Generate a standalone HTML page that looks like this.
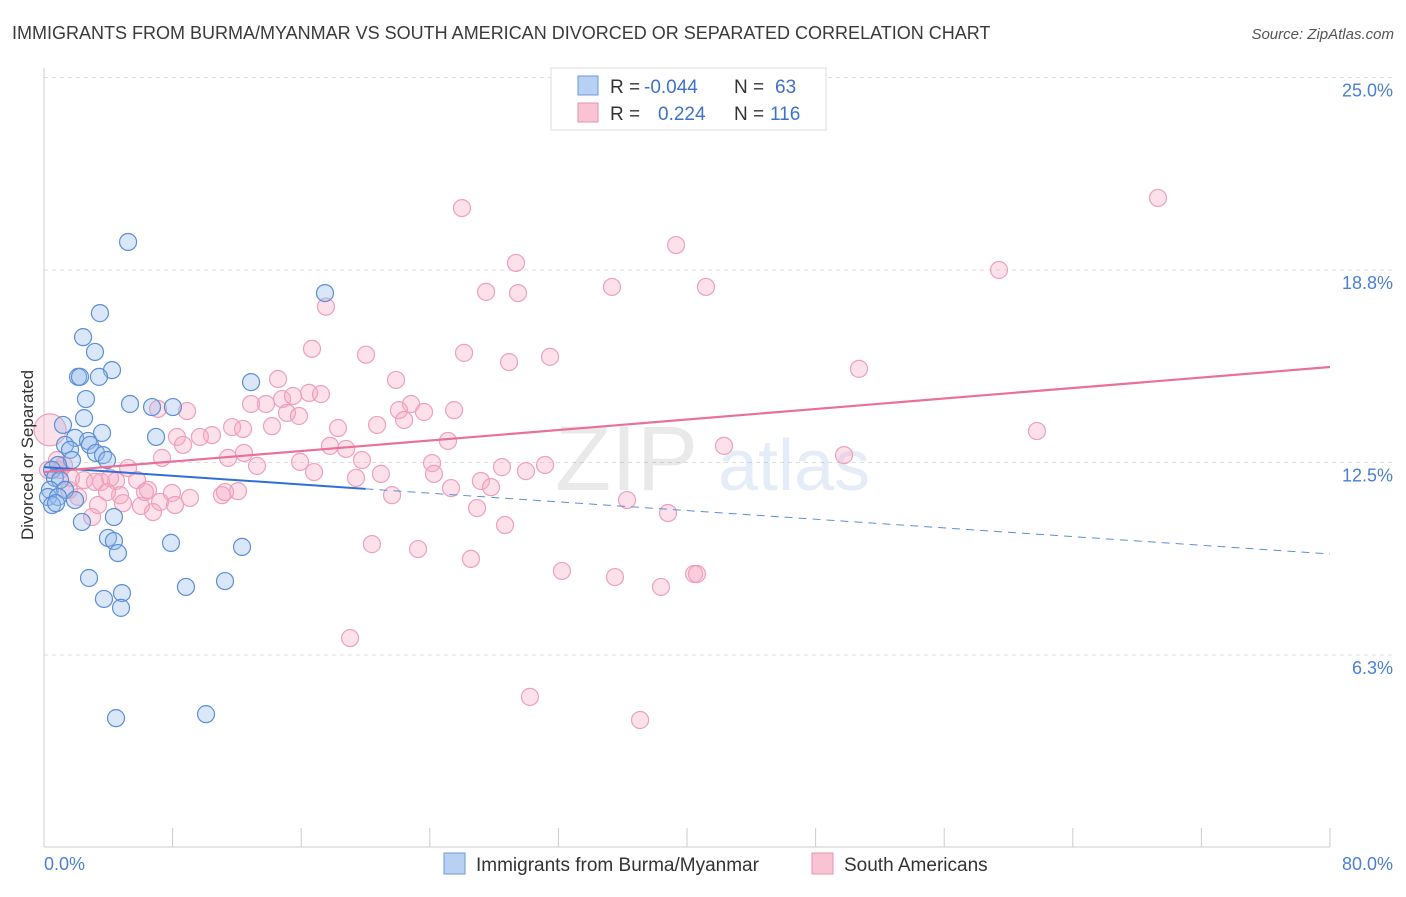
<!DOCTYPE html>
<html><head><meta charset="utf-8">
<style>
body{margin:0;background:#fff;font-family:"Liberation Sans",sans-serif;}
svg text{font-family:"Liberation Sans",sans-serif;}
</style></head>
<body>
<svg id="chart" width="1406" height="892" viewBox="0 0 1406 892" xmlns="http://www.w3.org/2000/svg">
<text x="12" y="39" font-size="18" fill="#3a3a3a">IMMIGRANTS FROM BURMA/MYANMAR VS SOUTH AMERICAN DIVORCED OR SEPARATED CORRELATION CHART</text>
<text x="1394" y="39" font-size="15" fill="#555" text-anchor="end" font-style="italic">Source: ZipAtlas.com</text>
<g id="grid"></g>
<g opacity="0.18">
<text x="555" y="490" font-size="92" font-family="Liberation Serif" fill="#888">ZIP</text>
<text x="718" y="490" font-size="72" fill="#6c9ad8">atlas</text>
</g>
<line x1="44" y1="68" x2="44" y2="847" stroke="#ccc"/>
<line x1="44" y1="847" x2="1330" y2="847" stroke="#ccc"/>
<g id="xticks"></g>
<g id="ylabels"></g>
<g id="pinkPts"></g>
<g id="bluePts"></g>
<g id="trends"></g>
<text transform="translate(33,455) rotate(-90)" font-size="17" fill="#333" text-anchor="middle">Divorced or Separated</text>
<text x="44" y="870" font-size="18" fill="#4a7fd4">0.0%</text>
<text x="1393" y="870" font-size="18" fill="#4a7fd4" text-anchor="end">80.0%</text>
<g>
<rect x="551" y="68" width="275" height="62" fill="#fff" stroke="#ddd"/>
<rect x="578" y="76" width="20" height="19" fill="#b8d0f2" stroke="#6c9ad8"/>
<rect x="578" y="103" width="20" height="19" fill="#f8c4d4" stroke="#e892ae"/>
<text x="610" y="93" font-size="19" fill="#333">R =</text>
<text x="644" y="93" font-size="19" fill="#3d72cc">-0.044</text>
<text x="734" y="93" font-size="19" fill="#333">N =</text>
<text x="775" y="93" font-size="19" fill="#3d72cc">63</text>
<text x="610" y="120" font-size="19" fill="#333">R =</text>
<text x="658" y="120" font-size="19" fill="#3d72cc">0.224</text>
<text x="734" y="120" font-size="19" fill="#333">N =</text>
<text x="770" y="120" font-size="19" fill="#3d72cc">116</text>
</g>
<g>
<rect x="444" y="853" width="21" height="21" fill="#b8d0f2" stroke="#6c9ad8"/>
<text x="476" y="871" font-size="19" fill="#333">Immigrants from Burma/Myanmar</text>
<rect x="812" y="853" width="21" height="21" fill="#f8c4d4" stroke="#e892ae"/>
<text x="844" y="871" font-size="19" fill="#333">South Americans</text>
</g>
</svg>
<script>
const yTicks=[6.25,12.5,18.75,25];
const yTickLabels=["6.3%","12.5%","18.8%","25.0%"];
const xTicks=[0,8,16,24,32,40,48,56,64,72,80];
const blueX=[5.23,3.48,2.43,3.17,2.12,2.24,4.23,3.42,2.61,5.35,6.72,8.02,12.88,17.48,2.49,1.18,3.61,1.93,2.74,2.86,6.97,1.31,1.62,3.23,3.67,3.92,1.74,0.87,0.50,0.68,1.00,0.37,1.31,0.25,0.87,1.93,2.36,4.35,3.98,4.35,4.60,7.90,12.32,2.80,8.83,11.26,3.73,4.85,4.79,4.48,10.08,0.50,0.75];
const blueY=[19.66,17.35,16.57,16.09,15.28,15.28,15.50,15.28,14.56,14.40,14.30,14.30,15.11,18.00,13.94,13.72,13.46,13.30,13.20,13.07,13.33,13.07,12.91,12.81,12.74,12.58,12.58,12.42,12.26,12.00,11.93,11.61,11.61,11.38,11.38,11.28,10.57,10.73,10.05,9.95,9.56,9.89,9.76,8.75,8.46,8.65,8.07,8.26,7.78,4.20,4.33,11.12,11.18];
const pinkX=[69.30,26.00,39.32,29.36,59.41,27.50,29.49,35.33,41.18,17.54,16.67,20.03,26.13,31.48,28.93,50.70,14.56,21.90,12.88,13.81,14.81,16.49,17.23,15.49,22.83,23.64,22.08,25.51,22.40,20.72,18.29,14.18,15.12,15.86,8.90,7.09,11.70,12.38,10.45,9.70,8.27,8.65,17.79,18.79,25.13,42.30,61.77,49.77,7.34,12.44,11.45,13.25,15.93,19.78,16.80,24.14,24.26,20.96,19.41,28.49,31.17,29.98,27.18,27.81,25.32,21.65,36.27,38.82,26.94,28.68,5.23,5.79,4.48,3.55,2.49,1.68,1.00,0.81,0.37,7.96,9.08,12.07,11.07,6.47,4.73,3.92,6.03,7.22,4.91,3.36,2.12,1.56,2.99,3.17,0.25,1.24,20.40,23.27,26.56,32.22,35.52,38.38,40.44,40.62,19.04,30.23,37.08,6.78,8.15,6.28,4.11,11.26];
const pinkY=[21.09,20.76,19.56,18.98,18.75,18.04,18.00,18.20,18.20,17.56,16.19,16.00,16.06,15.93,15.76,15.54,15.21,15.18,14.40,14.40,14.56,14.76,14.72,14.66,14.40,14.14,14.20,14.20,13.88,13.72,13.62,13.68,14.11,14.01,14.17,14.24,13.65,13.59,13.39,13.33,13.33,13.07,13.04,12.94,13.20,13.04,13.52,12.74,12.65,12.81,12.65,12.39,12.52,12.58,12.19,12.48,12.13,12.13,12.00,12.35,12.42,12.22,11.90,11.70,11.67,11.44,11.28,10.86,11.02,10.47,12.32,11.93,11.90,11.87,11.93,12.00,12.26,12.58,13.56,11.51,11.35,11.57,11.44,11.61,11.44,11.54,11.09,11.22,11.18,11.12,11.38,11.61,10.73,11.87,12.26,12.42,9.85,9.69,9.37,8.98,8.78,8.46,8.88,8.88,6.80,4.89,4.14,10.89,11.12,11.54,12.00,11.54];
const blueTrend=[12.35,9.53]; // at x=0 and x=80
const blueSolidEnd=20;
const pinkTrend=[12.19,15.60];

const NS="http://www.w3.org/2000/svg";
const xs=v=>44+v*16.075;
const ys=v=>847.5-v*30.8;
function mk(tag,attrs,parent){const e=document.createElementNS(NS,tag);for(const k in attrs)e.setAttribute(k,attrs[k]);parent.appendChild(e);return e;}
const grid=document.getElementById('grid'),yl=document.getElementById('ylabels'),xt=document.getElementById('xticks');
yTicks.forEach((t,i)=>{
 const l=mk('line',{x1:44,x2:1394,y1:ys(t),y2:ys(t),stroke:'#ddd','stroke-dasharray':'4,4'},grid);
 
 
 const tx=mk('text',{x:1393,y:ys(t)+19,'font-size':18,fill:'#4a7fd4','text-anchor':'end'},yl);
 tx.textContent=yTickLabels[i];
 
 
});
xTicks.forEach(t=>{
 const l=mk('line',{x1:xs(t),x2:xs(t),y1:828,y2:847,stroke:'#ccc'},xt);
 
 
});
const pg=document.getElementById('pinkPts');
pinkX.forEach((x,i)=>{
 const r=(i===78)?16:8.5;
 const c=mk('circle',{cx:xs(x),cy:ys(pinkY[i]),r:r,fill:'rgba(245,170,195,0.35)',stroke:'#eea0ba','stroke-width':1.2},pg);
 
 
});
const bg=document.getElementById('bluePts');
blueX.forEach((x,i)=>{
 const c=mk('circle',{cx:xs(x),cy:ys(blueY[i]),r:8.5,fill:'rgba(150,185,235,0.35)',stroke:'#5b8fd6','stroke-width':1.2},bg);
 
 
});
const tg=document.getElementById('trends');
const bAt=x=>blueTrend[0]+(blueTrend[1]-blueTrend[0])*x/80;
let l1=mk('line',{x1:xs(0),y1:ys(bAt(0)),x2:xs(blueSolidEnd),y2:ys(bAt(blueSolidEnd)),stroke:'#2f6fd6','stroke-width':2},tg);


let l2=mk('line',{x1:xs(blueSolidEnd),y1:ys(bAt(blueSolidEnd)),x2:xs(80),y2:ys(bAt(80)),stroke:'#5b8fd6','stroke-width':1,'stroke-dasharray':'8,6'},tg);


let l3=mk('line',{x1:xs(0),y1:ys(pinkTrend[0]),x2:xs(80),y2:ys(pinkTrend[1]),stroke:'#e8709a','stroke-width':2.2},tg);


</script>
</body></html>
